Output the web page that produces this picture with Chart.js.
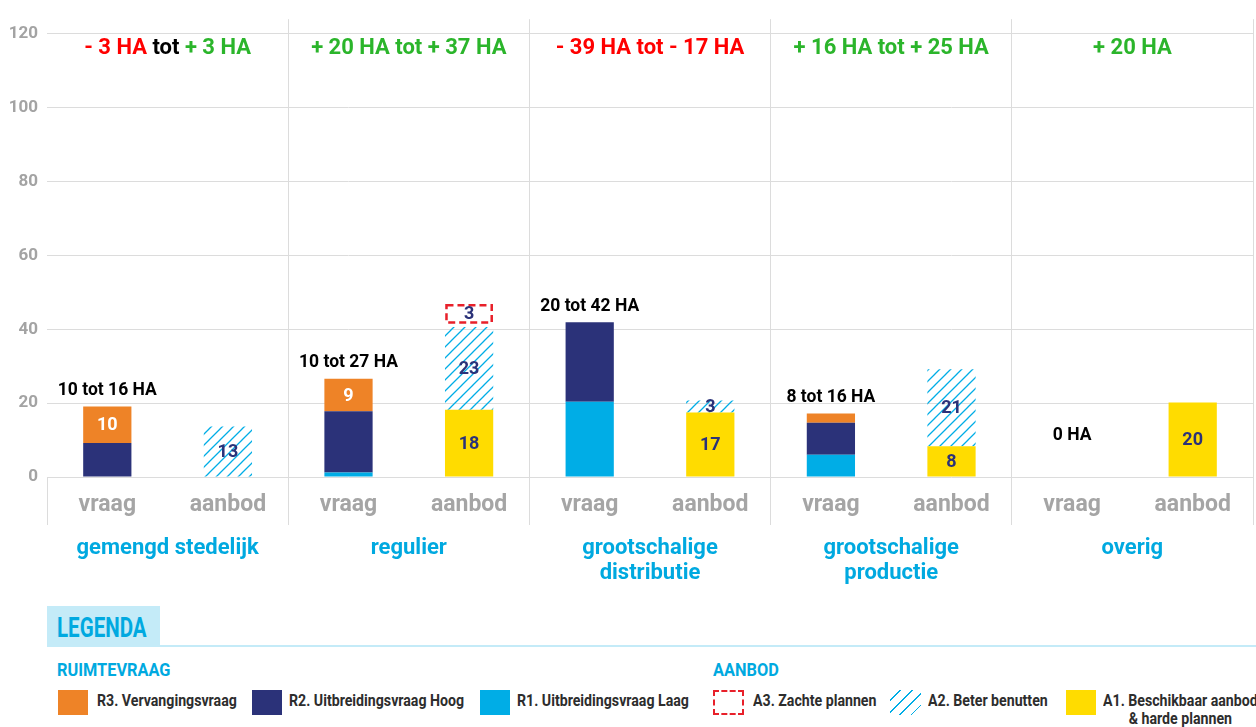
<!DOCTYPE html>
<html>
<head>
<meta charset="utf-8">
<title>Ruimtevraag en aanbod</title>
<script src="https://cdn.jsdelivr.net/npm/chart.js@4.4.1/dist/chart.umd.min.js"></script>
<style>
  body { margin: 0; background: #fff; }
  #wrap { position: relative; width: 1256px; height: 727px; font-family: Roboto, 'DejaVu Sans Condensed', sans-serif; font-weight: bold; }
  #chart { position: absolute; left: 0; top: 0; }
  .legend-head { position: absolute; left: 47px; top: 606px; width: 113px; height: 39px; background: #c4ebf8; }
  .legend-head span { position: absolute; left: 10px; top: 6px; color: #00a9e0; font-size: 27px; line-height: 32px; transform: scaleX(0.76); transform-origin: left; white-space: nowrap; }
  .legend-line { position: absolute; left: 47px; top: 645px; width: 1209px; height: 2px; background: #c4ebf8; }
  .sub { position: absolute; top: 658px; color: #00a9e0; font-size: 19px; line-height: 24px; transform: scaleX(0.86); transform-origin: left; white-space: nowrap; }
  .sw { position: absolute; top: 690px; width: 30px; height: 25px; box-sizing: border-box; }
  .lbl { position: absolute; top: 692px; font-size: 16px; line-height: 18px; color: #2d2d2d; transform: scaleX(0.885); transform-origin: left; white-space: nowrap; }
</style>
</head>
<body>
<div id="wrap">
  <canvas id="chart" width="1256" height="600"></canvas>
  <div class="legend-head"><span>LEGENDA</span></div>
  <div class="legend-line"></div>
  <div class="sub" style="left:57px">RUIMTEVRAAG</div>
  <div class="sub" style="left:713px">AANBOD</div>
  <div class="sw" style="left:58px;background:#ee8327"></div>
  <div class="lbl" style="left:97px">R3. Vervangingsvraag</div>
  <div class="sw" style="left:252px;background:#2b3279"></div>
  <div class="lbl" style="left:289px">R2. Uitbreidingsvraag Hoog</div>
  <div class="sw" style="left:480px;background:#00ade6"></div>
  <div class="lbl" style="left:517px">R1. Uitbreidingsvraag Laag</div>
  <div class="sw" style="left:713px;width:31px;border:2px dashed #e8202a"></div>
  <div class="lbl" style="left:753px">A3. Zachte plannen</div>
  <div class="sw" style="left:890px;width:31px;background:repeating-linear-gradient(135deg, transparent 0 7px, #00ade6 7px 8.3px)"></div>
  <div class="lbl" style="left:928px">A2. Beter benutten</div>
  <div class="sw" style="left:1066px;background:#ffdc00"></div>
  <div class="lbl" style="left:1103px;text-align:center">A1. Beschikbaar aanbod<br>&amp; harde plannen</div>
</div>
<script>
'use strict';

const FONT = "Roboto, 'DejaVu Sans Condensed', sans-serif";

const categories = ['vraag', 'aanbod', 'vraag', 'aanbod', 'vraag', 'aanbod', 'vraag', 'aanbod', 'vraag', 'aanbod'];
const groupNames = ['gemengd stedelijk', 'regulier', ['grootschalige', 'distributie'], ['grootschalige', 'productie'], 'overig'];
const yTicks = [0, 20, 40, 60, 80, 100, 120];

// ruimtevraag (vraag columns)
const r1Laag = [0, null, 1.2, null, 20.4, null, 6.0, null, 0, null];
const r2Hoog = [9.2, null, 16.6, null, 21.5, null, 8.7, null, 0, null];
const r3Vervanging = [9.9, null, 8.8, null, 0, null, 2.5, null, 0, null];
// aanbod (aanbod columns)
const a1Beschikbaar = [null, 0, null, 18.2, null, 17.5, null, 8.3, null, 20.2];
const a2Benutten = [null, 13.7, null, 22.4, null, 3.2, null, 20.9, null, 0];
const a3Zacht = [null, 0, null, 6.3, null, 0, null, 0, null, 0];

// numbers printed in the segments
const r3Labels = ['10', '', '9', '', '', '', '', '', '', ''];
const a1Labels = ['', '', '', '18', '', '17', '', '8', '', '20'];
const a2Labels = ['', '13', '', '23', '', '3', '', '21', '', ''];
const a3Labels = ['', '', '', '3', '', '', '', '', '', ''];

// vraag range per group and saldo range per group
const vraagMin = [10, 10, 20, 8, 0];
const vraagMax = [16, 27, 42, 16, 0];
const saldoLow = [-3, 20, -39, 16, 20];
const saldoHigh = [3, 37, -17, 25, null];

const RED = '#ff0000', GREEN = '#2bb52b', NAVY = '#2b3279', CYAN = '#00ade6';

function makeHatch() {
  const c = document.createElement('canvas');
  const s = 11;
  c.width = s; c.height = s;
  const g = c.getContext('2d');
  g.strokeStyle = CYAN;
  g.lineWidth = 1.3;
  g.beginPath();
  g.moveTo(-1, s + 1); g.lineTo(s + 1, -1);
  g.moveTo(-1, 1); g.lineTo(1, -1);
  g.moveTo(s - 1, s + 1); g.lineTo(s + 1, s - 1);
  g.stroke();
  return g.createPattern(c, 'repeat');
}
const hatch = makeHatch();

const segmentLabels = {
  id: 'segmentLabels',
  afterDatasetsDraw(chart) {
    const ctx = chart.ctx;
    ctx.save();
    ctx.font = 'bold 18px ' + FONT;
    ctx.textAlign = 'center';
    ctx.textBaseline = 'middle';
    chart.data.datasets.forEach((ds, di) => {
      const meta = chart.getDatasetMeta(di);
      meta.data.forEach((el, i) => {
        if (ds.dashed && ds.data[i] > 0) {
          ctx.save();
          ctx.setLineDash([7, 4]);
          ctx.strokeStyle = '#e8202a';
          ctx.lineWidth = 2.5;
          ctx.strokeRect(el.x - el.width / 2 + 1.5, el.y + 1.5, el.width - 3, el.base - el.y - 6);
          ctx.restore();
        }
        const txt = ds.segLabels && ds.segLabels[i];
        if (!txt) return;
        ctx.fillStyle = ds.labelColor;
        const yc = ds.dashed ? (el.y + el.base - 4) / 2 : (el.y + el.base) / 2;
        ctx.fillText(txt, el.x, yc + 1);
      });
    });
    ctx.restore();
  }
};

const annotations = {
  id: 'annotations',
  beforeDatasetsDraw(chart) {
    const { ctx, chartArea, scales } = chart;
    ctx.save();
    ctx.strokeStyle = '#dcdcdc';
    ctx.lineWidth = 1;
    ctx.beginPath();
    ctx.moveTo(chartArea.left + 0.5, scales.y.getPixelForValue(0));
    ctx.lineTo(chartArea.left + 0.5, chartArea.bottom);
    ctx.stroke();
    ctx.restore();
  },
  afterDraw(chart) {
    const { ctx, scales } = chart;
    const x = scales.x, y = scales.y;
    ctx.save();
    ctx.textBaseline = 'middle';
    // vraag range above the vraag column
    ctx.font = 'bold 17.5px ' + FONT;
    ctx.fillStyle = '#000';
    ctx.textAlign = 'center';
    vraagMin.forEach((mn, g) => {
      const i = g * 2;
      const total = (r1Laag[i] || 0) + (r2Hoog[i] || 0) + (r3Vervanging[i] || 0);
      const top = total > 0 ? y.getPixelForValue(total) : y.getPixelForValue(7);
      const txt = mn === vraagMax[g] ? mn + ' HA' : mn + ' tot ' + vraagMax[g] + ' HA';
      ctx.fillText(txt, x.getPixelForValue(i), top - 16);
    });
    // saldo per group at the top
    ctx.font = 'bold 22px ' + FONT;
    ctx.textAlign = 'left';
    const fmt = v => (v < 0 ? '- ' : '+ ') + Math.abs(v) + ' HA';
    const col = v => (v < 0 ? RED : GREEN);
    saldoLow.forEach((lo, g) => {
      const hi = saldoHigh[g];
      const parts = [[fmt(lo), col(lo)]];
      if (hi !== null) {
        parts.push([' tot ', (lo < 0) === (hi < 0) ? col(lo) : '#000']);
        parts.push([fmt(hi), col(hi)]);
      }
      const w = parts.reduce((s, p) => s + ctx.measureText(p[0]).width, 0);
      let px = scales.x2.getPixelForValue(g) - w / 2;
      const py = y.getPixelForValue(116);
      parts.forEach(p => {
        ctx.fillStyle = p[1];
        ctx.fillText(p[0], px, py);
        px += ctx.measureText(p[0]).width;
      });
    });
    ctx.restore();
  }
};

const config = {
  type: 'bar',
  data: {
    labels: categories,
    datasets: [
      { label: 'R1. Uitbreidingsvraag Laag', data: r1Laag, backgroundColor: CYAN },
      { label: 'R2. Uitbreidingsvraag Hoog', data: r2Hoog, backgroundColor: NAVY },
      { label: 'R3. Vervangingsvraag', data: r3Vervanging, backgroundColor: '#ee8327', segLabels: r3Labels, labelColor: '#fff' },
      { label: 'A1. Beschikbaar aanbod & harde plannen', data: a1Beschikbaar, backgroundColor: '#ffdc00', segLabels: a1Labels, labelColor: NAVY },
      { label: 'A2. Beter benutten', data: a2Benutten, backgroundColor: hatch, segLabels: a2Labels, labelColor: NAVY },
      { label: 'A3. Zachte plannen', data: a3Zacht, backgroundColor: 'rgba(0,0,0,0)', dashed: true, segLabels: a3Labels, labelColor: NAVY }
    ]
  },
  options: {
    responsive: false,
    animation: false,
    datasets: { bar: { stack: 'one', barPercentage: 0.4, categoryPercentage: 1, borderWidth: 0 } },
    layout: { padding: { top: 16, right: 3, left: 0, bottom: 0 } },
    plugins: { legend: { display: false }, tooltip: { enabled: false } },
    scales: {
      x: {
        stacked: true,
        weight: 0,
        grid: { display: false, drawTicks: false },
        border: { display: false },
        ticks: { color: '#a5a5a5', mirror: true, padding: 6, font: { family: FONT, size: 23, weight: 'bold' } },
        afterFit(scale) { scale.height = 0; }
      },
      x2: {
        type: 'category',
        position: 'bottom',
        weight: 1,
        labels: groupNames,
        offset: true,
        grid: {
          offset: true,
          drawTicks: false,
          color: c => (c.index === 0 ? 'rgba(0,0,0,0)' : '#dcdcdc')
        },
        border: { display: false },
        ticks: { color: '#00a9e0', padding: 10.5, font: { family: FONT, size: 22, weight: 'bold', lineHeight: 1.14 } },
        afterFit(scale) { scale.height = 75; }
      },
      y: {
        stacked: true,
        min: -13,
        max: 124,
        grid: { color: '#dcdcdc', drawTicks: false },
        border: { display: false },
        ticks: { color: '#a3a3a3', padding: 9, font: { family: FONT, size: 17, weight: 'bold' } },
        afterBuildTicks(axis) { axis.ticks = yTicks.map(v => ({ value: v })); },
        afterFit(scale) { scale.width = 47; }
      }
    }
  },
  plugins: [segmentLabels, annotations]
};

const chartRuimte = new Chart(document.getElementById('chart'), config);
</script>
</body>
</html>
